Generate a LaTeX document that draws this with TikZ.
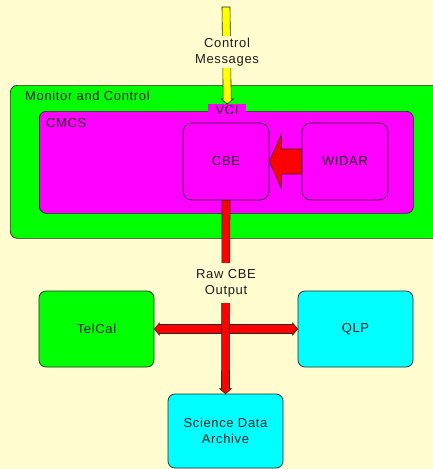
\documentclass[tikz,border=0pt]{standalone}
\usepackage{fontspec}
\setmainfont[LetterSpace=5]{Liberation Sans}
\usetikzlibrary{calc}
\definecolor{bg}{RGB}{255,252,208}
\definecolor{ink}{RGB}{30,30,30}
\definecolor{edge}{RGB}{40,40,40}
\definecolor{cgreen}{RGB}{0,255,0}
\definecolor{cmag}{RGB}{255,0,255}
\definecolor{ccyan}{RGB}{0,255,255}
\definecolor{cred}{RGB}{255,0,0}
\definecolor{cyel}{RGB}{255,255,0}
\begin{document}
\begin{tikzpicture}[x=1pt,y=-1pt,
  txt/.style={font=\fontsize{13}{16}\selectfont, text=ink, align=center, inner sep=0pt},
  box/.style={draw=edge, line width=0.7pt, rounded corners=7pt, inner sep=0pt},
  arrowpoly/.style={draw=edge, line width=0.6pt, fill=cred}
]
\useasboundingbox (0,0) rectangle (433,469);
\fill[bg] (0,0) rectangle (433,469);

% containers
\node[box, fill=cgreen, minimum width=440pt, minimum height=153pt, anchor=north west] (mc) at (10,85) {};
\node[txt, anchor=west] (mclbl) at (25,96) {Monitor and Control};
\node[box, fill=cmag, minimum width=374pt, minimum height=102pt, anchor=north west] (cmcs) at (39,111) {};
\node[fill=cmag, minimum width=38pt, minimum height=8pt, inner sep=0pt, anchor=north west] (vcitab) at (208,104) {};
\node[txt] (vci) at (227,110) {VCI};
\node[txt, anchor=west] (cmcslbl) at (46,123) {CMCS};

% inner boxes
\node[box, fill=cmag, rounded corners=9pt, minimum width=86pt, minimum height=77pt] (cbe) at (226,161.5) {};
\node[txt] at (cbe) {CBE};
\node[box, fill=cmag, rounded corners=9pt, minimum width=86pt, minimum height=77pt] (widar) at (345,161.5) {};
\node[txt] at (widar) {WIDAR};

\node[box, fill=cgreen, minimum width=115pt, minimum height=76pt] (telcal) at (96.5,329) {};
\node[txt] at (telcal) {TelCal};
\node[box, fill=ccyan, minimum width=115pt, minimum height=76pt] (qlp) at (355.5,329) {};
\node[txt] at (qlp) {QLP};
\node[box, fill=ccyan, minimum width=115pt, minimum height=74pt] (sda) at (225.5,431) {};
\node[txt] at (sda) {Science Data\\Archive};

% fat arrow WIDAR -> CBE
\filldraw[arrowpoly]
  (widar.west |- 0,149) -- ($(cbe.east)+(12,-12.5)$) -- ($(cbe.east)+(12,-27)$)
  -- (cbe.east) -- ($(cbe.east)+(12,27)$) -- ($(cbe.east)+(12,12.5)$) -- (widar.west |- 0,174) -- cycle;

% yellow control arrow
\coordinate (ytop) at (226,7);
\filldraw[draw=edge, line width=0.6pt, fill=cyel]
  ($(ytop)+(-4,0)$) -- ($(vcitab.north)+(-4,-5)$) -- ($(vcitab.north)+(-6,-5)$) -- (vcitab.north)
  -- ($(vcitab.north)+(6,-5)$) -- ($(vcitab.north)+(4,-5)$) -- ($(ytop)+(4,0)$) -- cycle;
\node[txt, fill=bg, inner sep=2pt] (ctrl) at (227,52) {Control\\Messages};

% horizontal double arrow TelCal <-> QLP
\filldraw[arrowpoly]
  (telcal.east) -- ($(telcal.east)+(5,-6)$) -- ($(telcal.east)+(5,-4.5)$) -- ($(qlp.west)+(-5,-4.5)$)
  -- ($(qlp.west)+(-5,-6)$) -- (qlp.west) -- ($(qlp.west)+(-5,6)$) -- ($(qlp.west)+(-5,4.5)$)
  -- ($(telcal.east)+(5,4.5)$) -- ($(telcal.east)+(5,6)$) -- cycle;

% vertical red arrow CBE -> SDA
\filldraw[arrowpoly]
  ($(cbe.south)+(-4,0)$) -- ($(sda.north)+(-4,-5)$) -- ($(sda.north)+(-6,-5)$) -- (sda.north)
  -- ($(sda.north)+(6,-5)$) -- ($(sda.north)+(4,-5)$) -- ($(cbe.south)+(4,0)$) -- cycle;
\node[txt, fill=bg, inner sep=2pt, minimum height=40pt] (raw) at (226,283) {Raw CBE\\Output};
\end{tikzpicture}
\end{document}
